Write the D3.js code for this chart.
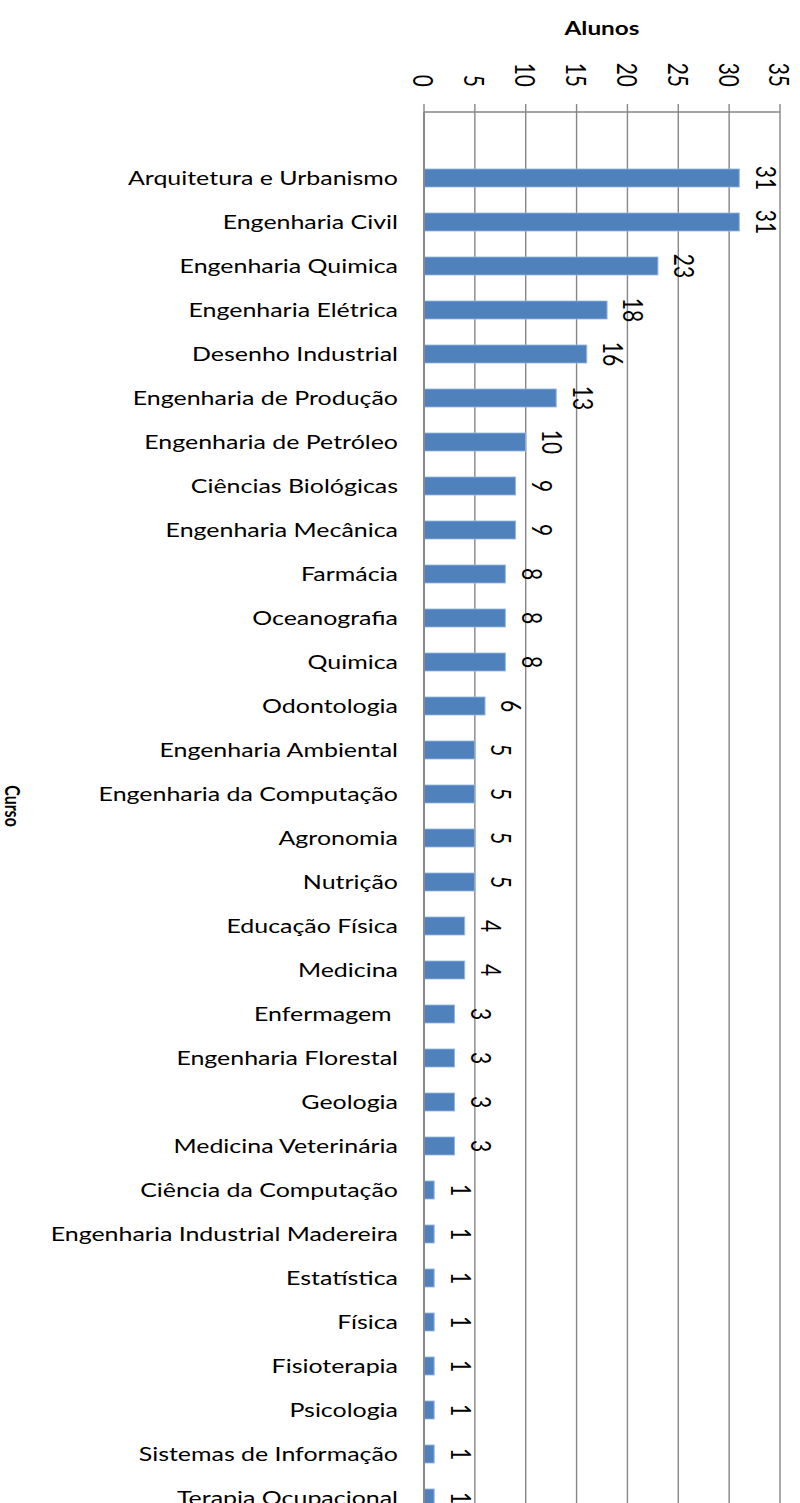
<!DOCTYPE html>
<html>
<head>
<meta charset="utf-8">
<script src="https://cdn.jsdelivr.net/npm/d3@7"></script>
<style>
body{margin:0;background:#fff}
text{font-family:Lato,"Open Sans",sans-serif}
</style>
</head>
<body>
<div id="chart"></div>
<script>
var cursos=["Arquitetura e Urbanismo","Engenharia Civil","Engenharia Quimica","Engenharia Elétrica","Desenho Industrial","Engenharia de Produção","Engenharia de Petróleo","Ciências Biológicas","Engenharia Mecânica","Farmácia","Oceanografia","Quimica","Odontologia","Engenharia Ambiental","Engenharia da Computação","Agronomia","Nutrição","Educação Física","Medicina","Enfermagem ","Engenharia Florestal","Geologia","Medicina Veterinária","Ciência da Computação","Engenharia Industrial Madereira","Estatística","Física","Fisioterapia","Psicologia","Sistemas de Informação","Terapia Ocupacional"]
var alunos=[31,31,23,18,16,13,10,9,9,8,8,8,6,5,5,5,5,4,4,3,3,3,3,1,1,1,1,1,1,1,1]
var tickValues=[0,5,10,15,20,25,30,35]

var svgWidth=800
var svgHeight=1503
// the picture is stretched sideways, so draw in a narrower viewBox
var k=1.28
var vw=svgWidth/k
function px(x){return x/k}

var svg=d3.select("#chart")
    .append("svg")
    .attr("width",svgWidth)
    .attr("height",svgHeight)
    .attr("viewBox",`0 0 ${vw} ${svgHeight}`)
    .attr("preserveAspectRatio","none")

var data=cursos.map((c,i)=>({curso:c,valor:alunos[i]}))

var xScale=d3.scaleLinear()
    .domain([0,35])
    .range([px(424),px(780)])
var yScale=d3.scaleBand()
    .domain(cursos)
    .range([156,156+31*44])
    .paddingInner(0.59)
    .paddingOuter(0.295)

var axisY=112

// gridlines
svg.append("g")
    .selectAll("line")
    .data(tickValues)
    .enter()
    .append("line")
    .attr("x1",d=>xScale(d))
    .attr("x2",d=>xScale(d))
    .attr("y1",104)
    .attr("y2",svgHeight)
    .attr("stroke","#878787")
    .attr("stroke-width",1.1)

// value axis line
svg.append("line")
    .attr("x1",xScale(0))
    .attr("x2",xScale(35))
    .attr("y1",axisY)
    .attr("y2",axisY)
    .attr("stroke","#878787")
    .attr("stroke-width",1.5)

// tick labels, rotated
svg.append("g")
    .selectAll("text")
    .data(tickValues)
    .enter()
    .append("text")
    .attr("transform",d=>`translate(${xScale(d)},87) rotate(90)`)
    .attr("text-anchor","end")
    .attr("dominant-baseline","central")
    .attr("font-size","21px")
    .attr("fill","#000")
    .text(d=>d)

// bars
svg.append("g")
    .selectAll("rect")
    .data(data)
    .enter()
    .append("rect")
    .attr("x",xScale(0))
    .attr("y",d=>yScale(d.curso))
    .attr("width",d=>xScale(d.valor)-xScale(0))
    .attr("height",yScale.bandwidth())
    .attr("fill","#4f81bd")
    .attr("stroke","#9ab7de")
    .attr("stroke-width",0.8)

// category axis line
svg.append("line")
    .attr("x1",xScale(0))
    .attr("x2",xScale(0))
    .attr("y1",axisY)
    .attr("y2",svgHeight)
    .attr("stroke","#878787")
    .attr("stroke-width",1.5)

// value labels
svg.append("g")
    .selectAll("text")
    .data(data)
    .enter()
    .append("text")
    .attr("transform",d=>`translate(${xScale(d.valor)+px(27)},${yScale(d.curso)+yScale.bandwidth()/2}) rotate(90)`)
    .attr("text-anchor","middle")
    .attr("dominant-baseline","central")
    .attr("font-size","21px")
    .attr("fill","#000")
    .text(d=>d.valor)

// category labels
svg.append("g")
    .selectAll("text")
    .data(data)
    .enter()
    .append("text")
    .attr("x",px(398))
    .attr("y",d=>yScale(d.curso)+yScale.bandwidth()/2)
    .attr("text-anchor","end")
    .attr("dominant-baseline","central")
    .attr("font-size","19.5px")
    .attr("fill","#000")
    .style("white-space","pre")
    .text(d=>d.curso)

// axis titles
svg.append("text")
    .attr("x",(xScale(0)+xScale(35))/2)
    .attr("y",28)
    .attr("text-anchor","middle")
    .attr("dominant-baseline","central")
    .attr("font-size","19px")
    .attr("font-weight","bold")
    .text("Alunos")
svg.append("text")
    .attr("transform",`translate(${px(13)},806) rotate(90)`)
    .attr("text-anchor","middle")
    .attr("dominant-baseline","central")
    .attr("font-size","16px")
    .attr("font-weight","bold")
    .text("Curso")
</script>
</body>
</html>
